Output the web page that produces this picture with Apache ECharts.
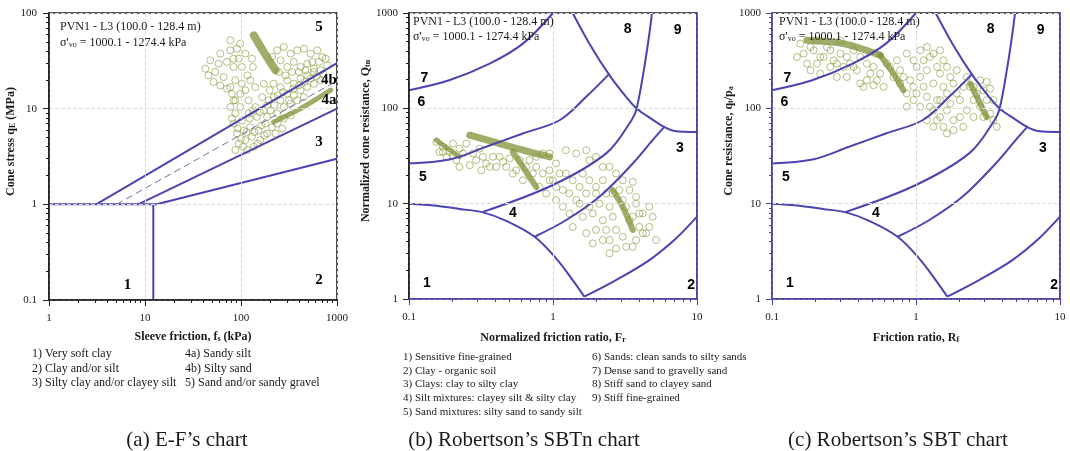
<!DOCTYPE html>
<html>
<head>
<meta charset="utf-8">
<script src="https://cdn.jsdelivr.net/npm/echarts@6/dist/echarts.min.js"></script>
<style>
html,body{margin:0;padding:0;background:#fff}
#c{width:1070px;height:451px}
</style>
</head>
<body>
<div id="c"></div>
<script>
// ---------------- data ----------------
// (a) E-F chart: sleeve friction fs (kPa), cone stress qE (MPa)
const efPoints = [
  [42.4,26.2],[47.8,32.0],[53.9,24.2],[58.4,29.5],[60.8,37.6],[65.9,21.4],[71.4,30.8],[77.4,51.8],
  [77.4,40.7],[83.8,27.3],[87.3,19.8],[94.6,33.3],[98.4,47.8],[45.9,22.3],[51.8,19.0],[60.8,17.5],
  [71.4,16.2],[80.5,14.3],[90.8,42.4],[111,37.6],
  [83.8,12.2],[87.3,8.9],[83.8,7.0],[90.8,5.5],[94.6,4.3],[87.3,3.7],[98.4,10.4],[102,7.5],
  [107,5.9],[111,4.7],[116,3.7],[120,12.2],[120,8.9],[125,6.4],[130,5.1],[136,4.0],[141,16.8],
  [141,10.4],[147,8.2],[153,5.9],[159,4.7],[166,13.2],[173,9.6],[180,7.0],[187,5.5],[111,15.6],
  [125,19.8],[98.4,14.3],[173,18.2],[195,12.2],
  [238,40.7],[279,44.1],[328,37.6],[385,40.7],[452,42.4],[531,37.6],[623,40.7],[703,34.7],
  [258,32.0],[303,27.3],[355,30.8],[417,27.3],[490,29.5],[575,26.2],[211,34.7],[248,24.2],
  [219,18.2],[258,16.8],[303,19.8],[355,18.2],[417,20.6],[490,22.3],[575,24.2],[675,25.2],
  [793,28.4],[219,13.2],[258,12.2],[303,14.3],[355,13.8],[417,15.6],[490,16.8],[575,18.2],
  [675,19.8],[203,9.6],[238,8.9],[279,10.4],[328,11.3],[385,12.2],[452,13.2],[238,7.0],
  [279,7.9],[328,8.5],[211,6.4],[268,6.2],[187,8.2],[229,5.5],
  [77.4,10.4],[80.5,7.9],[92.3,6.2],[100,4.86],[105,4.0],[114,5.7],[123,7.9],[133,9.6],
  [138,5.7],[149,4.3],[157,9.2],[163,6.7],[175,5.26],[187,10.8],[199,15.6],[223,10.8],
  [242,13.8],[275,14.9],[315,12.2],[350,16.2],[401,17.5],[459,19.0],[531,20.6],[613,21.8],
  [720,22.9],[291,22.3],[341,24.2],[401,24.2],[470,25.2],[552,30.8],[649,30.8],[762,33.3],
  [77.4,16.8],[87.3,12.2],[102,18.2],[117,22.3],[133,27.3],[83.8,33.3],[102,27.3],[130,33.3]
];
const efStreakA = [[136,58.4],[173,39.1],[229,25.2]];
const efStreakB = [[219,7.26],[417,10],[859,15.6]];

// E-F zone boundaries
const efBound5 = [[3.1,1],[1000,30]];
const efBound4 = [[5.06,1],[1000,19.5]];
const efBound3 = [[8.5,1],[1000,10]];
const efBound2 = [[13.2,1],[1000,3]];
const efBound1h = [[1,1],[13.2,1]];
const efBound1v = [[12.2,0.1],[12.2,1]];

// (b) SBTn chart: normalized friction ratio Fr (%), normalized cone resistance Qtn
const sbtnPoints = [
  [0.155,44.5],[0.172,39.4],[0.191,34.9],[0.182,31.0],[0.213,28.6],[0.237,33.6],[0.224,24.3],
  [0.264,25.3],[0.293,28.6],[0.318,22.4],[0.363,24.3],[0.163,34.9],[0.202,42.7],[0.250,42.7],
  [0.326,31.0],
  [0.426,31.0],[0.473,24.3],[0.526,20.7],[0.586,28.6],[0.652,24.3],[0.618,17.6],[0.725,20.7],
  [0.764,31.0],[0.849,33.6],[0.946,33.6],[0.805,15.0],[0.897,12.8],[0.998,17.6],[1.05,10.9],
  [1.17,13.9],[1.23,20.7],[1.30,7.9],[1.45,10.9],[1.53,15.0],[1.61,20.7],[1.79,28.6],[1.61,7.3],
  [1.79,9.3],[1.99,12.8],[2.22,17.6],[1.99,5.3],[2.22,6.7],[2.47,9.3],[2.60,12.8],[2.74,20.7],
  [3.05,17.6],[1.23,36.4],[1.45,33.6],[1.70,36.4],[1.99,31.0],[2.22,24.3],[1.05,26.4],[0.946,22.4],
  [1.17,9.3],[1.37,5.7],[1.70,4.9],[1.89,3.83],[2.47,4.15],[2.74,5.3],
  [3.05,10.9],[3.40,13.9],[3.78,10.0],[3.58,7.3],[3.98,5.7],[4.20,7.9],[4.67,9.3],[4.43,4.9],
  [3.78,4.15],[3.22,3.53],[5.20,4.15],[2.74,3.39],[3.58,16.9],[2.47,3.01],
  [0.172,34.9],[0.202,32.3],[0.224,37.8],[0.278,33.6],[0.309,37.8],[0.343,26.4],[0.383,31.0],
  [0.404,24.3],[0.449,27.5],[0.499,29.8],[0.555,22.4],[0.687,28.6],[0.764,24.3],[0.849,20.7],
  [0.946,17.6],[1.05,15.0],[1.11,20.7],[1.30,12.8],[1.37,17.6],[1.53,10.0],[1.70,12.8],
  [1.79,17.6],[1.89,7.9],[2.10,10.0],[2.34,12.8],[2.34,5.3],[2.60,7.3],[2.89,13.9],[3.22,9.3],
  [3.40,6.7],[3.78,11.8],[3.98,7.9],[4.20,4.9],[4.67,5.7],[4.92,7.3],[3.05,4.5],[3.58,3.53],
  [2.22,4.15],[1.99,15.0],[2.47,24.3]
];
const sbtnStreakA = [[0.264,52.3],[0.426,42.7],[0.687,34.9],[0.946,31.0]];
const sbtnStreakB = [[0.526,34.9],[0.618,24.3],[0.764,15.0]];
const sbtnStreakC = [[0.155,46.3],[0.224,31.0]];
const sbtnStreakD = [[2.60,13.9],[3.05,9.3],[3.58,5.3]];

// (c) SBT chart: friction ratio Rf (%), cone resistance qt/pa
const sbtPoints = [
  [0.149,346],[0.157,477],[0.175,294],[0.185,251],[0.195,406],[0.205,294],[0.216,231],[0.228,346],
  [0.241,440],[0.254,272],[0.268,319],[0.282,213],[0.298,375],[0.314,272],[0.331,213],[0.349,294],
  [0.368,406],[0.389,251],[0.410,182],[0.432,168],[0.456,197],[0.507,175],
  [0.507,272],[0.564,231],[0.628,294],[0.698,213],[0.776,251],[0.863,375],[0.961,319],[1.07,406],
  [1.19,440],[1.32,375],[1.47,406],[0.776,182],[0.863,143],[0.961,168],[1.07,213],[1.19,251],
  [1.32,182],[1.47,231],[1.64,272],[0.961,122],[1.07,104],[1.19,132],[1.32,95.5],[1.47,122],
  [1.64,143],[1.82,182],[1.19,75],[1.32,64],[1.47,81],[1.64,95.5],[1.82,75],[2.02,122],[1.82,59],
  [1.64,54.4],[2.13,64],[0.863,104],
  [2.25,213],[2.38,168],[2.51,122],[2.64,143],[2.79,104],[2.94,81],[3.10,122],[3.27,88],
  [3.45,75],[3.64,64],[3.10,189],[3.27,161],
  [0.166,375],[0.185,440],[0.205,517],[0.216,346],[0.254,406],[0.282,294],[0.298,517],[0.331,346],
  [0.368,272],[0.410,346],[0.456,294],[0.481,231],[0.535,197],[0.595,168],[0.662,272],[0.736,319],
  [0.818,213],[0.911,197],[1.01,272],[1.13,319],[1.25,346],[1.40,272],[1.55,319],[1.73,213],
  [1.92,251],[1.01,143],[1.13,168],[1.25,104],[1.40,122],[1.55,168],[1.73,112],[1.92,143],
  [2.13,168],[2.25,95.5],[2.51,81],[2.02,81],[1.40,75],[1.55,64],[2.51,168],[2.94,155],
  [3.45,122],[2.79,197]
];
const sbtStreakA = [[0.175,517],[0.314,477],[0.564,360]];
const sbtStreakB = [[0.564,360],[0.698,231],[0.818,155]];
const sbtStreakC = [[2.38,182],[2.79,112],[3.10,81]];

// Robertson zone boundaries (shared by the SBTn and SBT charts)
const robZone1 = [[0.1,10],[0.155,9.5],[0.225,8.8],[0.326,8.1],[0.473,6.6],[0.745,4.5],[1.05,2.67],[1.37,1.58],[1.65,1.06]];
const robZone2 = [[1.65,1.06],[2.74,1.58],[4.67,2.56],[7.14,4.31],[10,7.3]];
const robZone34 = [[0.745,4.5],[1.23,6.7],[2.1,11.8],[3.58,26.4],[4.92,46.4],[5.93,63.8]];
const robZone45 = [[0.326,8.2],[0.99,15.6],[2.35,33.9],[3.51,75],[3.81,99.6],[4.31,272],[4.67,607],[4.87,1000]];
const robZone56 = [[0.1,26.4],[0.191,29],[0.343,39.5],[0.617,54.5],[1.11,75],[1.70,132],[2.47,231]];
const robZone67 = [[0.1,155],[0.19,197],[0.363,294],[0.618,477],[1.0,1000]];
const robZone8 = [[1.37,1000],[1.79,477],[2.47,222],[3.22,132],[3.81,99.6],[4.80,78],[5.93,63.8],[7.0,58],[10,56.6]];

// tick labels
const efXTicks = [1, 10, 100, 1000];
const efYTicks = [0.1, 1, 10, 100];
const robXTicks = [0.1, 1, 10];
const robYTicks = [1, 10, 100, 1000];

// ---------------- drawing ----------------
const SERIF = '"Liberation Serif","Times New Roman",serif';
const SANS = '"Liberation Sans",Arial,sans-serif';
const ZONE = '#4b44b0';
const FRAME = '#1e1e1e';
const INK = '#1a1a1a';
const DOT = 'rgba(132,152,58,0.78)';
const STREAK = 'rgba(126,146,52,0.75)';

// intermediate log ticks (2..9 within each decade)
function minorTicks(lo, hi) {
  const out = [];
  for (let d = lo; d < hi; d = +(d * 10).toPrecision(6)) {
    for (let k = 2; k <= 9; k++) out.push(+(d * k).toPrecision(6));
  }
  return out;
}

const SUBS = {
  s: { fontFamily: SERIF, fontWeight: 'bold', fontSize: 8, color: INK, verticalAlign: 'bottom', lineHeight: 9 }
};

const panels = [
  {
    grid: { left: 49, top: 13, width: 288, height: 287 },
    x: { min: 1, max: 1000, ticks: efXTicks, line: FRAME, name: 'Sleeve friction, f{s|s} (kPa)', gap: 31, margin: 13 },
    y: { min: 0.1, max: 100, ticks: efYTicks, line: FRAME, name: 'Cone stress q{s|E} (MPa)', gap: 28, margin: 12 },
    rightEdge: false
  },
  {
    grid: { left: 409, top: 13, width: 288, height: 286 },
    x: { min: 0.1, max: 10, ticks: robXTicks, line: ZONE, name: 'Normalized friction ratio, F{s|r}', gap: 33, margin: 13 },
    y: { min: 1, max: 1000, ticks: robYTicks, line: FRAME, name: 'Normalized cone resistance, Q{s|tn}', gap: 32, margin: 11 },
    rightEdge: true
  },
  {
    grid: { left: 772, top: 13, width: 288, height: 286 },
    x: { min: 0.1, max: 10, ticks: robXTicks, line: ZONE, name: 'Friction ratio, R{s|f}', gap: 33, margin: 13 },
    y: { min: 1, max: 1000, ticks: robYTicks, line: ZONE, name: 'Cone resistance, q{s|t}/p{s|a}', gap: 31, margin: 11 },
    rightEdge: true
  }
];

const grids = [], xAxes = [], yAxes = [], series = [];

function majorAxis(dim, i, c) {
  return {
    type: 'log', logBase: 10, gridIndex: i, min: c.min, max: c.max,
    position: dim === 'x' ? 'bottom' : 'left',
    axisLine: { show: true, onZero: false, lineStyle: { color: c.line, width: 1.6 } },
    axisTick: { show: true, inside: false, length: 6, customValues: c.ticks, lineStyle: { color: c.line, width: 1 } },
    axisLabel: {
      show: true, customValues: c.ticks, fontFamily: SERIF, fontSize: 11, color: INK,
      margin: c.margin,
      formatter: v => String(+Number(v).toPrecision(6))
    },
    splitLine: { show: true, lineStyle: { color: '#dcdcdc', type: 'dashed', width: 1 } },
    name: c.name, nameLocation: 'middle', nameGap: c.gap,
    nameTextStyle: {
      fontFamily: SERIF, fontWeight: 'bold', fontSize: 12, color: INK, rich: SUBS,
      padding: dim === 'y' ? [0, 0, 0, 30] : 0
    },
    z: 6
  };
}
function minorAxis(dim, i, c) {
  return {
    type: 'log', logBase: 10, gridIndex: i, min: c.min, max: c.max,
    position: dim === 'x' ? 'bottom' : 'left',
    axisLine: { show: false },
    axisTick: { show: true, inside: false, length: 3, customValues: minorTicks(c.min, c.max), lineStyle: { color: c.line, width: 1 } },
    axisLabel: { show: false },
    splitLine: { show: false },
    z: 6
  };
}

panels.forEach((p, i) => {
  grids.push(Object.assign({ show: true, borderColor: FRAME, borderWidth: 1.6, backgroundColor: 'transparent' }, p.grid));
  xAxes.push(majorAxis('x', i, p.x), minorAxis('x', i, p.x));
  yAxes.push(majorAxis('y', i, p.y), minorAxis('y', i, p.y));
});
// blue right-hand edges of the Robertson charts
panels.forEach((p, i) => {
  if (!p.rightEdge) return;
  yAxes.push({
    type: 'log', logBase: 10, gridIndex: i, min: p.y.min, max: p.y.max, position: 'right',
    axisLine: { show: true, lineStyle: { color: ZONE, width: 1.6 } },
    axisTick: { show: false }, axisLabel: { show: false }, splitLine: { show: false }, z: 6
  });
});

function ax(i) { return { xAxisIndex: 2 * i, yAxisIndex: 2 * i }; }

function cloud(i, pts) {
  series.push(Object.assign({
    type: 'scatter', data: pts, symbol: 'circle', symbolSize: 7, silent: true, z: 2,
    itemStyle: { color: 'rgba(255,255,255,0)', borderColor: DOT, borderWidth: 1 }
  }, ax(i)));
}
function streak(i, pts, w) {
  series.push(Object.assign({
    type: 'line', data: pts, symbol: 'none', silent: true, z: 3, smooth: 0.3,
    lineStyle: { color: STREAK, width: w, cap: 'round', join: 'round' }
  }, ax(i)));
}
function boundary(i, pts, opts) {
  const o = opts || {};
  series.push(Object.assign({
    type: 'line', data: pts, symbol: 'none', silent: true, z: 4, smooth: o.smooth || 0,
    lineStyle: { color: o.color || ZONE, width: o.width || 2, type: o.type || 'solid' }
  }, ax(i)));
}
function zoneLabels(i, labels, family, size) {
  series.push(Object.assign({
    type: 'scatter', data: labels, symbol: 'circle', symbolSize: 2, silent: true, z: 7,
    itemStyle: { color: '#fff', opacity: 0 },
    label: {
      show: true, position: [1, 1], align: 'center', verticalAlign: 'middle',
      formatter: q => q.value[2], fontFamily: family, fontWeight: 'bold', fontSize: size,
      color: '#000', opacity: 1, textBorderWidth: 0
    }
  }, ax(i)));
}

// (a)
cloud(0, efPoints);
streak(0, efStreakA, 8);
streak(0, efStreakB, 5);
[efBound5, efBound3, efBound2, efBound1h, efBound1v].forEach(b => boundary(0, b));
boundary(0, efBound4, { color: '#6f6fa6', width: 1, type: [7, 4] });
zoneLabels(0, [[649, 71.4, '5'], [825, 19.8, '4b'], [825, 12.4, '4a'], [649, 4.5, '3'], [6.59, 0.142, '1'], [649, 0.161, '2']], SERIF, 15);

// (b) and (c)
const robLabels = [[0.128, 205, '7'], [0.122, 117, '6'], [0.125, 19.1, '5'], [0.526, 7.9, '4'], [0.133, 1.48, '1'],
                   [9.1, 1.4, '2'], [7.6, 37.8, '3'], [3.3, 685, '8'], [7.35, 658, '9']];
cloud(1, sbtnPoints);
streak(1, sbtnStreakA, 7);
streak(1, sbtnStreakB, 6);
streak(1, sbtnStreakC, 5);
streak(1, sbtnStreakD, 6);
cloud(2, sbtPoints);
streak(2, sbtStreakA, 7);
streak(2, sbtStreakB, 6);
streak(2, sbtStreakC, 6);
[1, 2].forEach(i => {
  [robZone1, robZone2, robZone34, robZone45, robZone56, robZone67, robZone8].forEach(b => boundary(i, b, { smooth: 0.35 }));
  zoneLabels(i, robLabels, SANS, 14);
});

// ---------------- text blocks ----------------
const graphic = [];
function txt(x, y, text, font, align, rich) {
  graphic.push({
    type: 'text', x: x, y: y, silent: true, z: 100,
    style: { text: text, font: font, fill: INK, align: align || 'left', verticalAlign: 'middle', rich: rich }
  });
}
const SIGMA_RICH = { v: { fontFamily: SERIF, fontSize: 8, fill: INK, verticalAlign: 'bottom', lineHeight: 9 } };
[[60, 27, 43], [413, 22, 37], [779, 22, 37]].forEach(t => {
  txt(t[0], t[1], 'PVN1 - L3 (100.0 - 128.4 m)', '12px ' + SERIF);
  txt(t[0], t[2], "σ'{v|vo} = 1000.1 - 1274.4 kPa", '12px ' + SERIF, 'left', SIGMA_RICH);
});

const efLegendLeft = ['1) Very soft clay', '2) Clay and/or silt', '3) Silty clay and/or clayey silt'];
const efLegendRight = ['4a) Sandy silt', '4b) Silty sand', '5) Sand and/or sandy gravel'];
const robLegendLeft = ['1) Sensitive fine-grained', '2) Clay - organic soil', '3) Clays: clay to silty clay',
  '4) Silt mixtures: clayey silt & silty clay', '5) Sand mixtures: silty sand to sandy silt'];
const robLegendRight = ['6) Sands: clean sands to silty sands', '7) Dense sand to gravelly sand',
  '8) Stiff sand to clayey sand', '9) Stiff fine-grained'];
efLegendLeft.forEach((s, k) => txt(32, 354 + k * 14.5, s, '12px ' + SERIF));
efLegendRight.forEach((s, k) => txt(185, 354 + k * 14.5, s, '12px ' + SERIF));
robLegendLeft.forEach((s, k) => txt(403, 357 + k * 13.8, s, '11px ' + SERIF));
robLegendRight.forEach((s, k) => txt(592, 357 + k * 13.8, s, '11px ' + SERIF));

txt(187, 440, '(a) E-F\u2019s chart', '21px ' + SERIF, 'center');
txt(524, 440, '(b) Robertson\u2019s SBTn chart', '21px ' + SERIF, 'center');
txt(898, 440, '(c) Robertson\u2019s SBT chart', '21px ' + SERIF, 'center');

const chart = echarts.init(document.getElementById('c'));
chart.setOption({
  animation: false,
  backgroundColor: '#fff',
  textStyle: { fontFamily: SERIF },
  grid: grids,
  xAxis: xAxes,
  yAxis: yAxes,
  series: series,
  graphic: graphic
});
</script>
</body>
</html>
